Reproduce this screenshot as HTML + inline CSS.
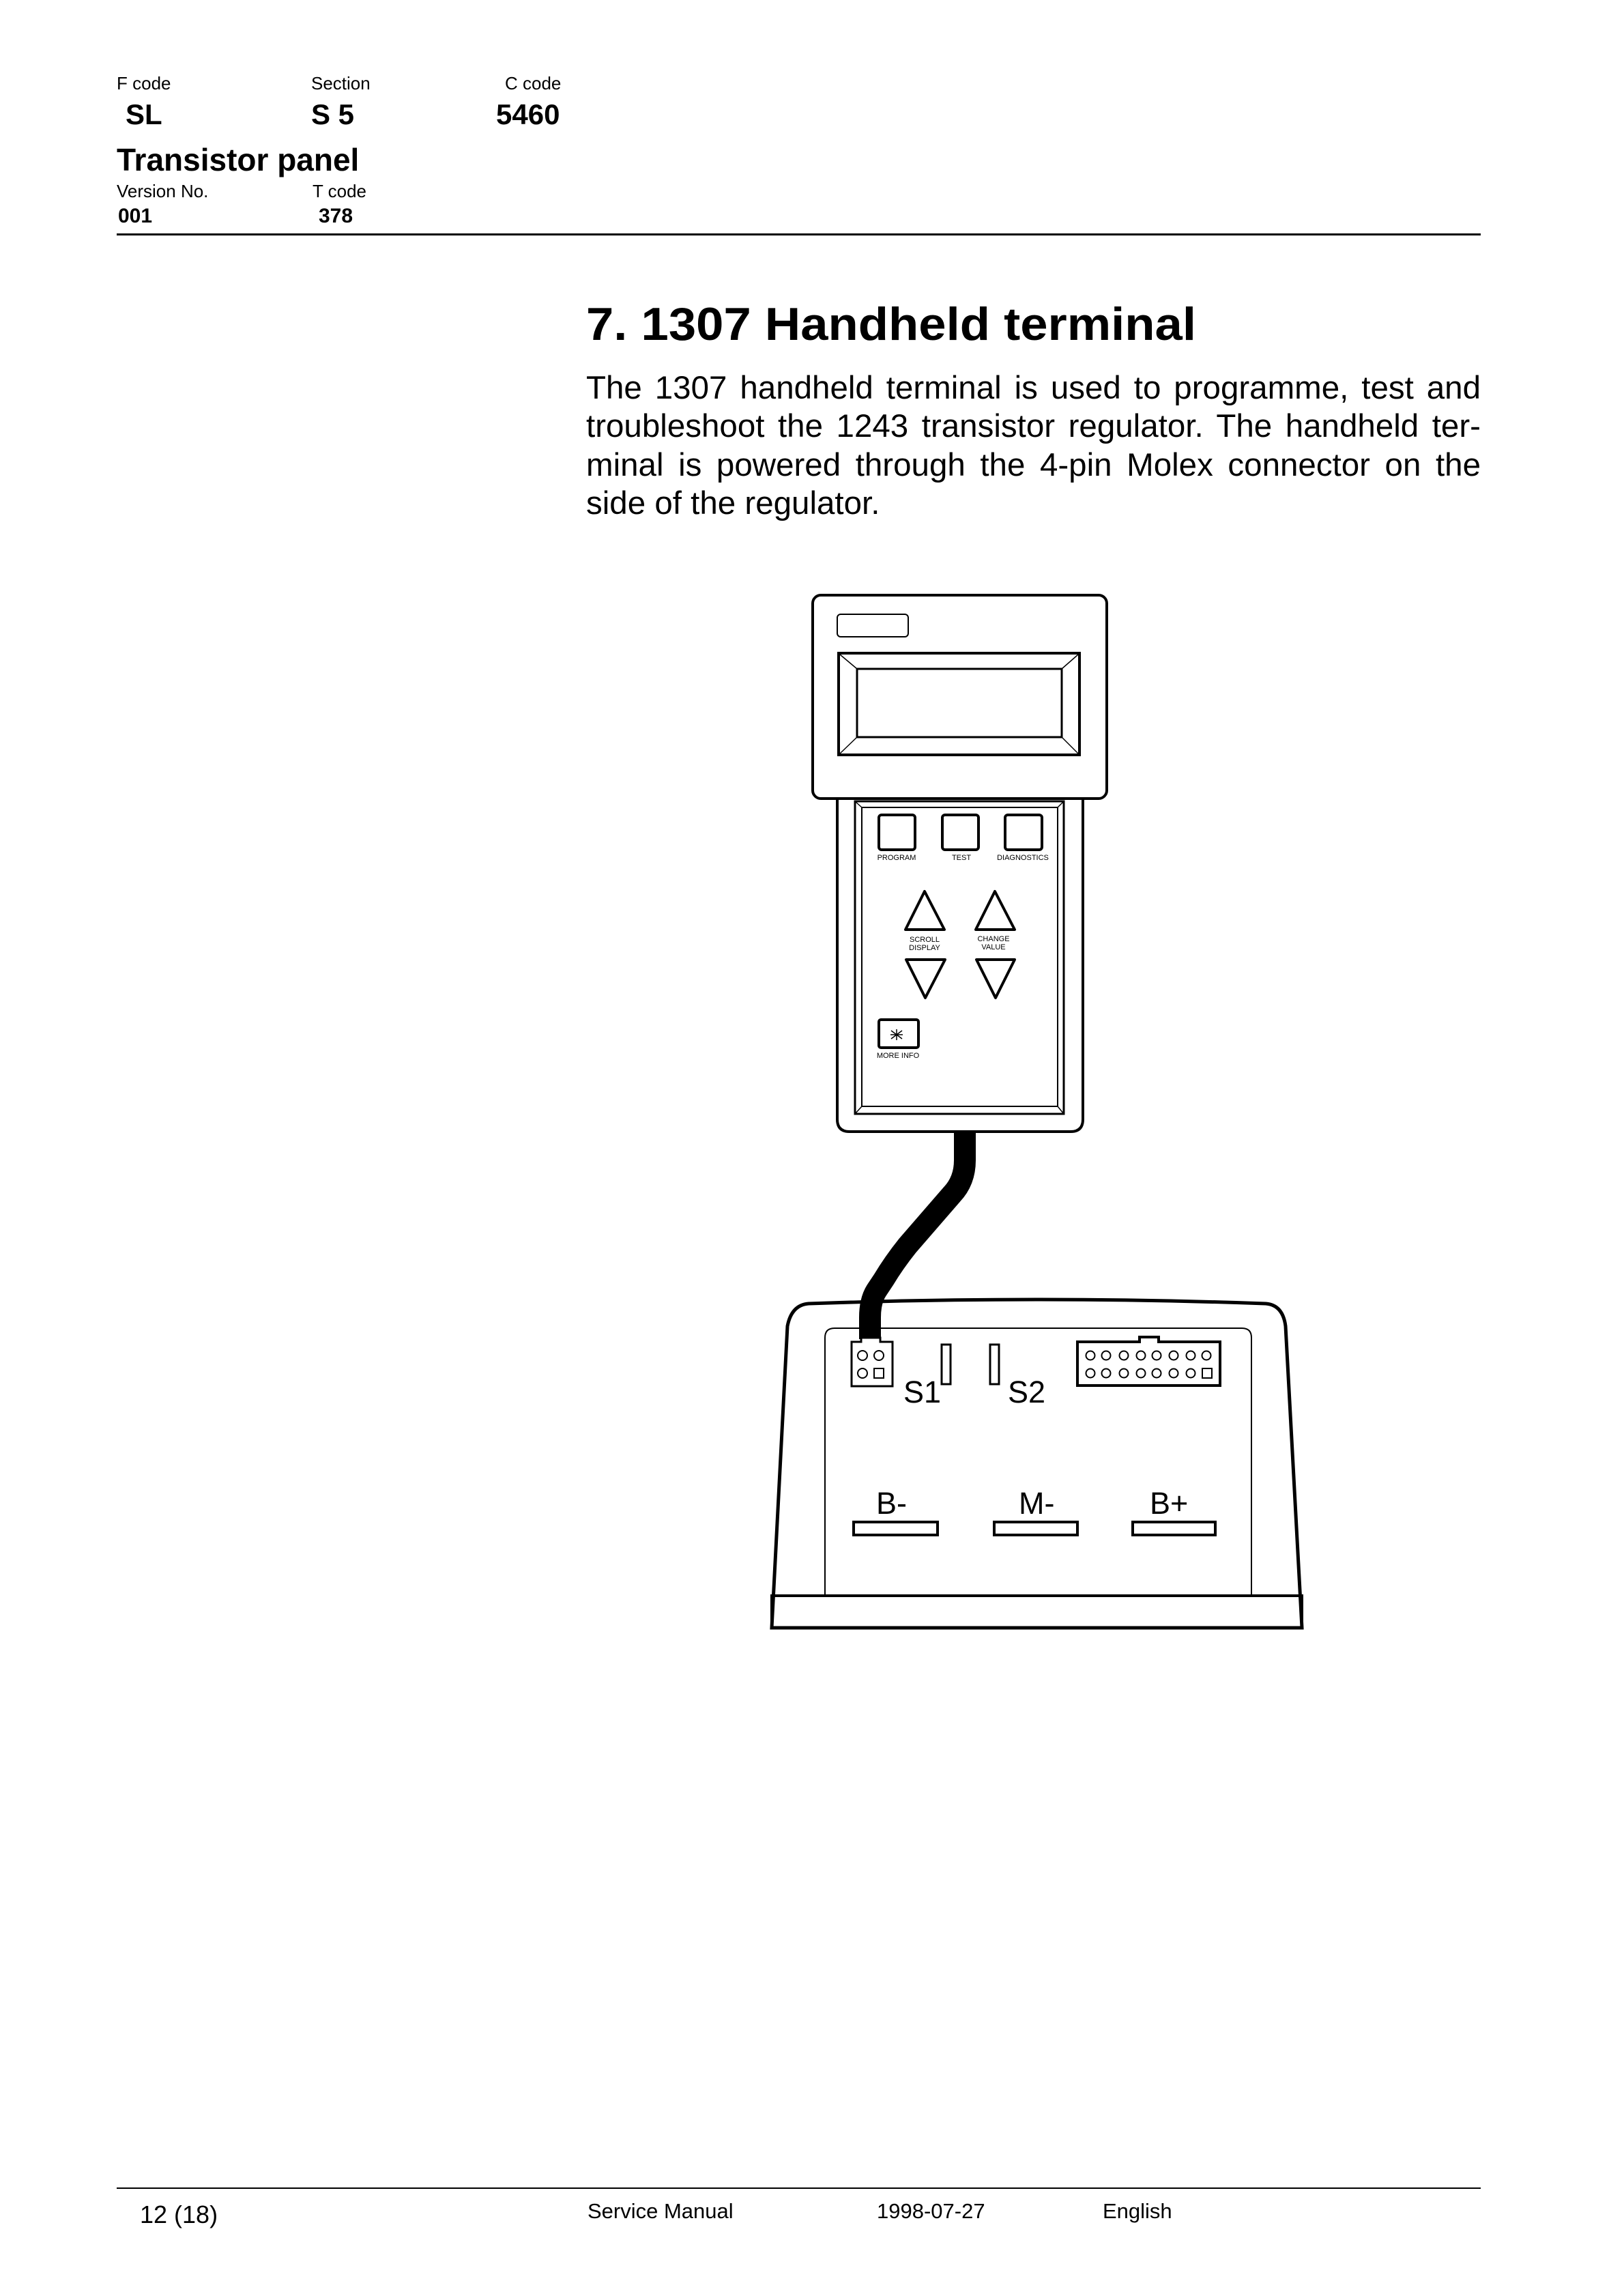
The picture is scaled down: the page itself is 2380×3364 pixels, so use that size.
<!DOCTYPE html>
<html><head><meta charset="utf-8"><style>
html,body{margin:0;padding:0;background:#fff}
svg{display:block}
text{font-family:"Liberation Sans",Arial,sans-serif;fill:#000}
.p{position:absolute;left:859px;width:1311px;font-family:"Liberation Sans",Arial,sans-serif;font-size:47.5px;line-height:56px;white-space:nowrap}
.j{text-align:justify;text-align-last:justify;white-space:normal}
</style></head><body>
<div style="position:relative;width:2380px;height:3364px">
<svg width="2380" height="3364" viewBox="0 0 2380 3364" xmlns="http://www.w3.org/2000/svg" style="position:absolute;left:0;top:0">
<text x="171" y="131" font-size="26">F code</text>
<text x="456" y="131" font-size="26">Section</text>
<text x="740" y="131" font-size="26">C code</text>
<text x="184" y="182" font-size="42" font-weight="bold">SL</text>
<text x="456" y="182" font-size="42" font-weight="bold">S 5</text>
<text x="727" y="182" font-size="42" font-weight="bold">5460</text>
<text x="171" y="250" font-size="46" font-weight="bold">Transistor panel</text>
<text x="171" y="289" font-size="26">Version No.</text>
<text x="458" y="289" font-size="26">T code</text>
<text x="173" y="326" font-size="30" font-weight="bold">001</text>
<text x="467" y="326" font-size="30" font-weight="bold">378</text>
<rect x="171" y="342" width="1999" height="3" fill="#000"/>
<text x="859" y="498" font-size="68" font-weight="bold" textLength="894" lengthAdjust="spacingAndGlyphs">7. 1307 Handheld terminal</text>
<g fill="none" stroke="#000">
<path d="M1227 1165 L1227 1640 Q1227 1658 1245 1658 L1569 1658 Q1587 1658 1587 1640 L1587 1165" stroke-width="4" fill="#fff"/>
<rect x="1191" y="872" width="431" height="298" rx="12" stroke-width="4" fill="#fff"/>
<rect x="1227" y="900" width="104" height="33" rx="5" stroke-width="2"/>
<rect x="1229" y="957" width="353" height="149" stroke-width="4"/>
<rect x="1256" y="980" width="300" height="100" stroke-width="3"/>
<path d="M1231 959 L1256 980 M1580 959 L1556 980 M1231 1104 L1256 1080 M1580 1104 L1556 1080" stroke-width="1.5"/>
<rect x="1253" y="1174" width="306" height="458" stroke-width="3"/>
<rect x="1263" y="1183" width="287" height="438" stroke-width="2"/>
<path d="M1253 1174 L1263 1183 M1559 1174 L1550 1183 M1253 1632 L1263 1621 M1559 1632 L1550 1621" stroke-width="1.5"/>
<rect x="1288" y="1194" width="53" height="51" rx="4" stroke-width="4"/>
<rect x="1381" y="1194" width="53" height="51" rx="4" stroke-width="4"/>
<rect x="1473" y="1194" width="54" height="51" rx="4" stroke-width="4"/>
<path d="M1355 1306 L1384 1362 L1327 1362 Z" stroke-width="4" stroke-linejoin="round"/>
<path d="M1458 1306 L1487 1362 L1430 1362 Z" stroke-width="4" stroke-linejoin="round"/>
<path d="M1328 1406 L1385 1406 L1356 1462 Z" stroke-width="4" stroke-linejoin="round"/>
<path d="M1431 1406 L1487 1406 L1459 1462 Z" stroke-width="4" stroke-linejoin="round"/>
<rect x="1288" y="1494" width="58" height="41" rx="3" stroke-width="4"/>
<path d="M1314 1508 L1314 1524 M1306 1510 L1322 1522 M1322 1510 L1306 1522 M1305 1516 L1323 1516" stroke-width="1.5"/>
</g>
<g font-size="11" text-anchor="middle">
<text x="1314" y="1260">PROGRAM</text>
<text x="1409" y="1260">TEST</text>
<text x="1499" y="1260">DIAGNOSTICS</text>
<text x="1355" y="1380">SCROLL</text>
<text x="1355" y="1392">DISPLAY</text>
<text x="1456" y="1379">CHANGE</text>
<text x="1456" y="1391">VALUE</text>
<text x="1316" y="1550">MORE INFO</text>
</g>
<g fill="none" stroke="#000">
<path d="M1131 2385 L1154 1943 Q1160 1912 1185 1910 Q1520 1898 1855 1910 Q1880 1912 1884 1943 L1908 2385 Z" stroke-width="5" fill="#fff"/>
<rect x="1131" y="2338" width="777" height="47" stroke-width="4"/>
<path d="M1209 2338 L1209 1960 Q1209 1946 1223 1946 L1820 1946 Q1834 1946 1834 1960 L1834 2338" stroke-width="2"/>
</g>
<path d="M1414 1656 L1414 1700 Q1414 1730 1395 1750 L1330 1825 Q1310 1850 1295 1875 L1285 1890 Q1275 1905 1275 1930 L1275 1962" fill="none" stroke="#000" stroke-width="32"/>
<g fill="none" stroke="#000">
<path d="M1248 1966 L1262 1966 L1262 1960 L1290 1960 L1290 1966 L1308 1966 L1308 2031 L1248 2031 Z" stroke-width="3" fill="#fff"/>
<circle cx="1264" cy="1986" r="7" stroke-width="2"/>
<circle cx="1288" cy="1986" r="7" stroke-width="2"/>
<circle cx="1264" cy="2012" r="7" stroke-width="2"/>
<rect x="1281" y="2005" width="14" height="14" stroke-width="2"/>
<rect x="1380" y="1970" width="13" height="58" stroke-width="3"/>
<rect x="1451" y="1970" width="13" height="58" stroke-width="3"/>
<path d="M1579 1966 L1670 1966 L1670 1959 L1698 1959 L1698 1966 L1788 1966 L1788 2030 L1579 2030 Z" stroke-width="4"/>
<g stroke-width="2">
<circle cx="1598" cy="1986" r="6.5"/><circle cx="1621" cy="1986" r="6.5"/><circle cx="1647" cy="1986" r="6.5"/><circle cx="1672" cy="1986" r="6.5"/><circle cx="1695" cy="1986" r="6.5"/><circle cx="1720" cy="1986" r="6.5"/><circle cx="1745" cy="1986" r="6.5"/><circle cx="1768" cy="1986" r="6.5"/>
<circle cx="1598" cy="2012" r="6.5"/><circle cx="1621" cy="2012" r="6.5"/><circle cx="1647" cy="2012" r="6.5"/><circle cx="1672" cy="2012" r="6.5"/><circle cx="1695" cy="2012" r="6.5"/><circle cx="1720" cy="2012" r="6.5"/><circle cx="1745" cy="2012" r="6.5"/>
<rect x="1762" y="2005" width="14" height="14"/>
</g>
<rect x="1251" y="2230" width="123" height="19" stroke-width="4"/>
<rect x="1457" y="2230" width="122" height="19" stroke-width="4"/>
<rect x="1660" y="2230" width="121" height="19" stroke-width="4"/>
</g>
<g font-size="45">
<text x="1324" y="2055">S1</text>
<text x="1477" y="2055">S2</text>
<text x="1284" y="2218">B-</text>
<text x="1493" y="2218">M-</text>
<text x="1685" y="2218">B+</text>
</g>
<rect x="171" y="3205" width="1999" height="2" fill="#000"/>
<text x="205" y="3257" font-size="36">12 (18)</text>
<text x="861" y="3250" font-size="31">Service Manual</text>
<text x="1285" y="3250" font-size="31">1998-07-27</text>
<text x="1616" y="3250" font-size="31">English</text>
</svg>
<div class="p j" style="top:541px">The 1307 handheld terminal is used to programme, test and</div>
<div class="p j" style="top:597px">troubleshoot the 1243 transistor regulator. The handheld ter-</div>
<div class="p j" style="top:654px">minal is powered through the 4-pin Molex connector on the</div>
<div class="p" style="top:710px">side of the regulator.</div>
</div>
</body></html>
